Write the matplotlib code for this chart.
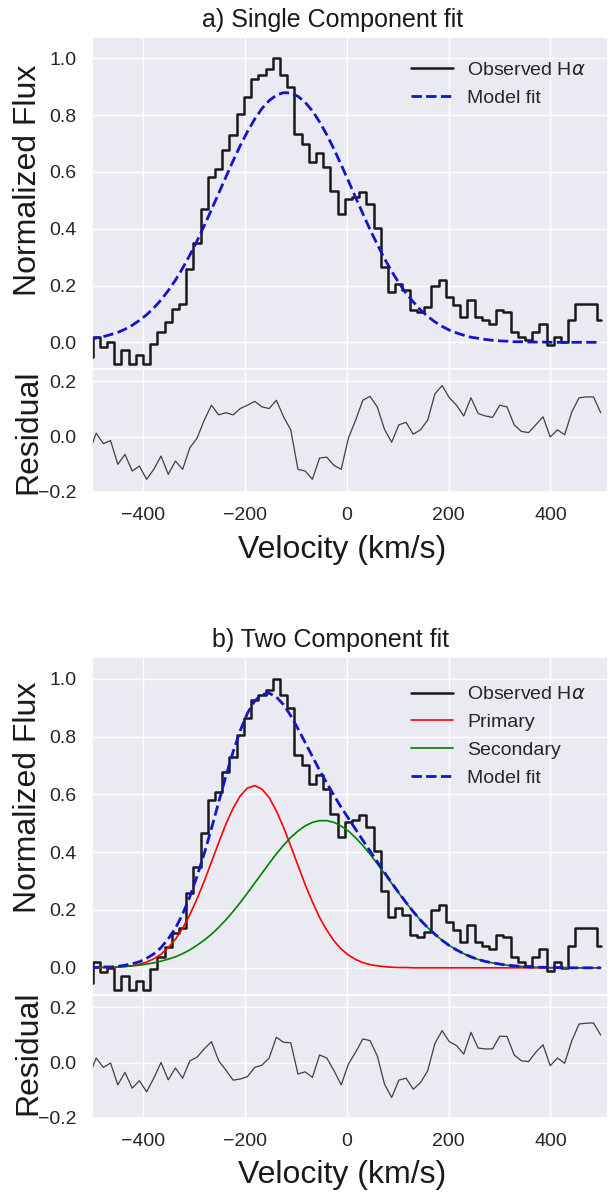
import numpy as np
import matplotlib
matplotlib.use('Agg')
import matplotlib.pyplot as plt
import seaborn as sns

sns.set_theme(style='darkgrid')
plt.rcParams['font.family'] = ['Liberation Sans', 'DejaVu Sans']

# velocity of each spectral bin centre (km/s), regular grid
vel = -506 + 14.15*np.arange(72)

# observed H-alpha, normalized flux per bin
flux_obs = [-0.052, 0.019, -0.016, 0.001, -0.075, -0.028, -0.075, -0.046, -0.075, -0.005,
            0.036, 0.072, 0.119, 0.136, 0.259, 0.348, 0.468, 0.582, 0.609, 0.676,
            0.729, 0.805, 0.864, 0.928, 0.942, 0.961, 1.000, 0.942, 0.899, 0.735,
            0.700, 0.635, 0.668, 0.617, 0.532, 0.453, 0.506, 0.512, 0.530, 0.488,
            0.403, 0.265, 0.177, 0.207, 0.183, 0.113, 0.107, 0.124, 0.200, 0.218,
            0.159, 0.130, 0.089, 0.148, 0.089, 0.077, 0.065, 0.113, 0.107, 0.036,
            0.019, 0.007, 0.036, 0.065, -0.011, 0.019, 0.001, 0.077, 0.136, 0.136,
            0.136, 0.077]

# a) single gaussian fit and its residual
model_single = [0.011, 0.015, 0.020, 0.027, 0.035, 0.046, 0.060, 0.077, 0.097, 0.121,
                0.149, 0.182, 0.219, 0.261, 0.307, 0.357, 0.411, 0.467, 0.525, 0.582,
                0.639, 0.693, 0.742, 0.786, 0.823, 0.851, 0.870, 0.879, 0.878, 0.866,
                0.845, 0.815, 0.776, 0.731, 0.680, 0.625, 0.568, 0.510, 0.453, 0.397,
                0.345, 0.295, 0.250, 0.209, 0.173, 0.142, 0.114, 0.091, 0.072, 0.056,
                0.043, 0.033, 0.025, 0.018, 0.014, 0.010, 0.007, 0.005, 0.004, 0.002,
                0.002, 0.001, 0.001, 0.001, 0.0, 0.0, 0.0, 0.0, 0.0, 0.0,
                0.0, 0.0]
resid_single = [-0.060, 0.013, -0.025, -0.014, -0.100, -0.064, -0.124, -0.106, -0.154, -0.118,
                -0.070, -0.136, -0.088, -0.118, -0.040, -0.005, 0.060, 0.114, 0.079, 0.087,
                0.079, 0.102, 0.114, 0.128, 0.108, 0.102, 0.132, 0.072, 0.025, -0.118,
                -0.124, -0.154, -0.077, -0.074, -0.104, -0.118, -0.005, 0.060, 0.132, 0.146,
                0.108, 0.027, -0.020, 0.043, 0.052, 0.009, 0.025, 0.060, 0.155, 0.185,
                0.141, 0.114, 0.075, 0.141, 0.084, 0.075, 0.070, 0.114, 0.108, 0.043,
                0.019, 0.015, 0.043, 0.072, -0.001, 0.025, 0.007, 0.090, 0.141, 0.144,
                0.144, 0.087]

# b) two component fit and its residual
primary = [0.0, 0.0, 0.001, 0.001, 0.002, 0.004, 0.007, 0.012, 0.020, 0.031,
           0.047, 0.070, 0.099, 0.137, 0.184, 0.239, 0.300, 0.366, 0.433, 0.497,
           0.552, 0.595, 0.622, 0.630, 0.618, 0.589, 0.543, 0.486, 0.421, 0.354,
           0.288, 0.228, 0.174, 0.130, 0.093, 0.065, 0.044, 0.029, 0.018, 0.011,
           0.007, 0.004, 0.002, 0.001, 0.001, 0.0, 0.0, 0.0, 0.0, 0.0,
           0.0, 0.0, 0.0, 0.0, 0.0, 0.0, 0.0, 0.0, 0.0, 0.0,
           0.0, 0.0, 0.0, 0.0, 0.0, 0.0, 0.0, 0.0, 0.0, 0.0,
           0.0, 0.0]
secondary = [0.001, 0.001, 0.002, 0.002, 0.003, 0.005, 0.007, 0.009, 0.013, 0.017,
             0.023, 0.030, 0.038, 0.049, 0.062, 0.078, 0.096, 0.116, 0.140, 0.166,
             0.195, 0.226, 0.259, 0.293, 0.327, 0.361, 0.394, 0.424, 0.451, 0.473,
             0.491, 0.503, 0.509, 0.509, 0.503, 0.490, 0.473, 0.450, 0.423, 0.393,
             0.360, 0.326, 0.292, 0.258, 0.225, 0.194, 0.165, 0.139, 0.116, 0.095,
             0.077, 0.062, 0.049, 0.038, 0.029, 0.022, 0.017, 0.013, 0.009, 0.007,
             0.005, 0.003, 0.002, 0.002, 0.001, 0.001, 0.001, 0.0, 0.0, 0.0,
             0.0, 0.0]
resid_two = [-0.050, 0.017, -0.017, -0.001, -0.080, -0.035, -0.092, -0.065, -0.105, -0.056,
             0.001, -0.062, -0.019, -0.056, 0.007, 0.020, 0.050, 0.076, 0.007, -0.027,
             -0.063, -0.059, -0.050, -0.017, -0.009, 0.017, 0.092, 0.074, 0.072, -0.041,
             -0.033, -0.053, 0.028, 0.017, -0.029, -0.080, -0.005, 0.038, 0.086, 0.080,
             0.025, -0.077, -0.126, -0.063, -0.056, -0.096, -0.072, -0.029, 0.070, 0.116,
             0.076, 0.062, 0.031, 0.110, 0.053, 0.050, 0.050, 0.096, 0.095, 0.028,
             0.007, 0.004, 0.038, 0.065, -0.011, 0.017, -0.002, 0.080, 0.140, 0.143,
             0.144, 0.100]

# total model = sum of the two components
model_two = np.array(primary) + np.array(secondary)

W, H = 608, 1193
fig = plt.figure(figsize=(W/100, H/100), dpi=100)

def axes_px(top, bottom):
    # axes box from pixel rows, full width from x=92 to the right edge
    return fig.add_axes([92/W, 1 - bottom/H, (W - 92)/W, (bottom - top)/H])

ax1 = axes_px(37, 369)
ax1r = axes_px(369, 492)
ax2 = axes_px(657, 995)
ax2r = axes_px(995, 1118)

blue = '#1414c8'

# panel a
ax1.step(vel, flux_obs, where='mid', color='k', lw=1.8, label=r'Observed H$\alpha$')
ax1.plot(vel, model_single, '--', color=blue, lw=2, label='Model fit')
ax1r.plot(vel, resid_single, color='0.25', lw=0.9)

# panel b
ax2.step(vel, flux_obs, where='mid', color='k', lw=1.8, label=r'Observed H$\alpha$')
ax2.plot(vel, primary, color='red', lw=1.2, label='Primary')
ax2.plot(vel, secondary, color='green', lw=1.2, label='Secondary')
ax2.plot(vel, model_two, '--', color=blue, lw=2, label='Model fit')
ax2r.plot(vel, resid_two, color='0.25', lw=0.9)

for ax, top in ((ax1, 0.95), (ax2, 0.938)):
    ax.set_xlim(-500, 513)
    ax.set_ylim(-0.094, 1.075)
    ax.set_yticks([0.0, 0.2, 0.4, 0.6, 0.8, 1.0])
    ax.set_xticks([-400, -200, 0, 200, 400])
    ax.tick_params(labelbottom=False, labelsize=14, pad=5)
    ax.legend(loc='upper left', bbox_to_anchor=(0.603, top), frameon=False,
              fontsize=14, handlelength=2.15, handletextpad=0.75, labelspacing=0.52,
              borderaxespad=0)

for ax in (ax1r, ax2r):
    ax.set_xlim(-500, 513)
    ax.set_ylim(-0.2, 0.245)
    ax.set_yticks([-0.2, 0.0, 0.2])
    ax.set_xticks([-400, -200, 0, 200, 400])
    ax.tick_params(labelsize=14, pad=5)

def fig_text(x, y, s, size, rot=0):
    fig.text(x/W, 1 - y/H, s, fontsize=size, rotation=rot, ha='center', va='center',
             color='0.1')

fig_text(333, 20, 'a) Single Component fit', 18)
fig_text(331, 640, 'b) Two Component fit', 18)
fig_text(342, 550, 'Velocity (km/s)', 23)
fig_text(342, 1175, 'Velocity (km/s)', 23)
fig_text(28, 180, 'Normalized Flux', 23, 90)
fig_text(28, 432, 'Residual', 23, 90)
fig_text(28, 797, 'Normalized Flux', 23, 90)
fig_text(28, 1053, 'Residual', 23, 90)

fig.savefig('out.png', dpi=100)
